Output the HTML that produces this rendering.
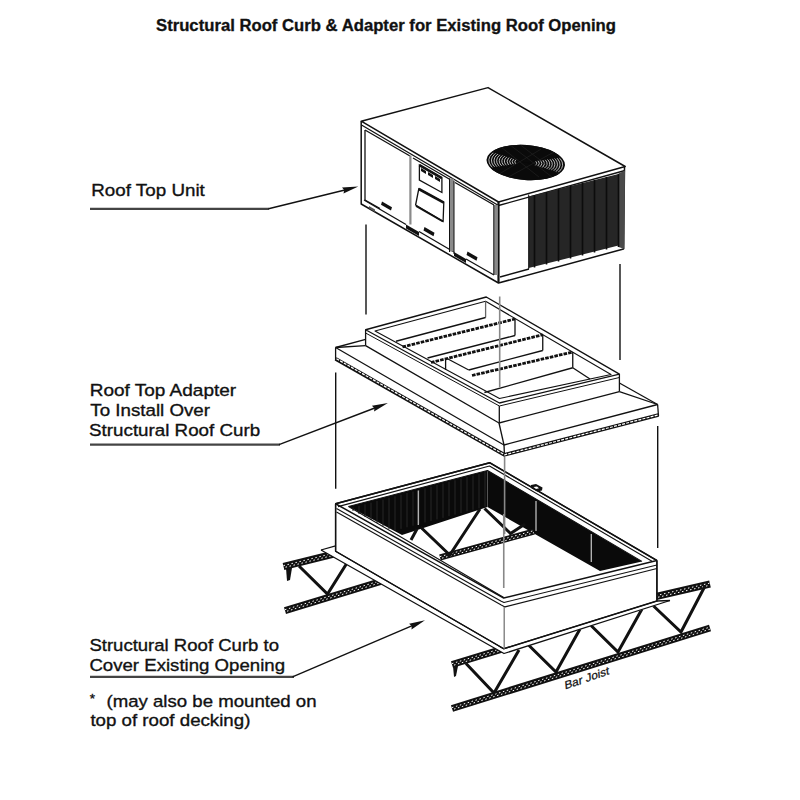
<!DOCTYPE html>
<html><head><meta charset="utf-8">
<style>
html,body{margin:0;padding:0;background:#fff;width:800px;height:800px;overflow:hidden}
svg{display:block}
text{font-family:"Liberation Sans",sans-serif;fill:#111}
</style></head><body>
<svg width="800" height="800" viewBox="0 0 800 800">
<rect width="800" height="800" fill="#fff"/>
<!-- title -->
<text x="156" y="31.2" font-size="15.6" font-weight="bold" stroke="#111" stroke-width="0.3" textLength="460" lengthAdjust="spacingAndGlyphs">Structural Roof Curb &amp; Adapter for Existing Roof Opening</text>
<!-- labels -->
<g font-size="17.2" stroke="#111" stroke-width="0.35">
<text x="91.3" y="196.3" textLength="113.5" lengthAdjust="spacingAndGlyphs">Roof Top Unit</text>
<text x="89.8" y="396" textLength="146.3" lengthAdjust="spacingAndGlyphs">Roof Top Adapter</text>
<text x="90.3" y="416" textLength="119.7" lengthAdjust="spacingAndGlyphs">To Install Over</text>
<text x="89.1" y="436" textLength="171" lengthAdjust="spacingAndGlyphs">Structural Roof Curb</text>
<text x="89.4" y="651" textLength="189.6" lengthAdjust="spacingAndGlyphs">Structural Roof Curb to</text>
<text x="89.4" y="671.2" textLength="195.6" lengthAdjust="spacingAndGlyphs">Cover Existing Opening</text>
<text x="89.8" y="703" font-size="13.5">*</text>
<text x="106.5" y="706.5" textLength="210" lengthAdjust="spacingAndGlyphs">(may also be mounted on</text>
<text x="90.4" y="726.2" textLength="160" lengthAdjust="spacingAndGlyphs">top of roof decking)</text>
</g>
<g stroke="#111" stroke-width="1.4" fill="none">
<!-- leaders -->
<line x1="90" y1="208.8" x2="269" y2="208.8" stroke="#444" stroke-width="2.2"/>
<line x1="90" y1="444.6" x2="280" y2="444.6" stroke="#444" stroke-width="2.2"/>
<line x1="90" y1="676.8" x2="294" y2="676.8" stroke="#444" stroke-width="2.2"/>
<polyline points="268.5,208.8 350,188.8"/>
<polyline points="279,444.6 380,406"/>
<polyline points="292.5,676.8 417,623.6"/>
</g>
<g fill="#111">
<polygon points="358.3,186.6 343.5,193.5 344.2,190.1 342.0,187.5"/>
<polygon points="387.9,403.0 374.1,411.6 374.4,408.2 371.9,405.8"/>
<polygon points="425.0,620.3 411.5,629.4 411.7,626.0 409.1,623.7"/>
</g>

<!-- ===== UNIT ===== -->
<g stroke="#111" stroke-width="1.3" fill="none" stroke-linejoin="round">
<polygon points="361.2,121.2 488,87.6 625.2,166.5 498.5,202" fill="#fff" stroke-width="1.5"/>
<!-- rim double lines -->
<polyline points="361.5,125 498.5,205.5 625,170.5"/>
<polyline points="365,130 410,156"/>
<polyline points="413,158 450,179.5"/>
<polyline points="455,182.5 494,205"/>
<!-- left outer vertical & bottom -->
<polyline points="361.2,121.2 361.2,204 498.5,283 623.5,249 624.5,167" stroke-width="1.5"/>
<line x1="365" y1="130" x2="365" y2="200"/>
<polyline points="365,200 380,208.5"/>
<polyline points="364,200 406,224.5"/>
<polyline points="419,231.5 454,252"/>
<polyline points="466,259 494,275"/>
<line x1="498.5" y1="202" x2="498.5" y2="283" stroke-width="2.2"/>
<!-- right face bottom double -->
<polyline points="500,277 529,269"/>
</g>
<!-- gray divider bands -->
<g fill="#8a8a8a">
<rect x="409.3" y="155.5" width="2.2" height="69"/>
<rect x="449.5" y="178.5" width="4.5" height="73"/>
<rect x="493.8" y="205" width="4" height="70"/>
</g>
<g stroke="#111" stroke-width="1" fill="none">
<line x1="449.5" y1="178.5" x2="449.5" y2="252"/>
<line x1="454" y1="181" x2="454" y2="254"/>
<line x1="493.8" y1="205" x2="493.8" y2="275"/>
</g>
<!-- control panel -->
<g stroke="#111" stroke-width="1.3" fill="none">
<polygon points="419.4,165 441.9,178 441.9,192.5 419.4,180"/>
<polygon points="418.8,188.8 443.8,202.5 443.1,221.3 415.6,205"/>
</g>
<g stroke="#111" stroke-width="2.6" fill="none">
<line x1="419.4" y1="165.2" x2="441.9" y2="178.2"/>
<line x1="418.8" y1="189" x2="443.8" y2="202.7"/>
<line x1="416" y1="206" x2="443" y2="221.5" stroke-width="2"/>
</g>
<g fill="#111">
<polygon points="421,168 426,171 426,174 421,171"/>
<polygon points="428,172 433,175 433,178 428,175"/>
<polygon points="435,176 440,179 440,182 435,179"/>
<!-- handles -->
<polygon points="382,201.5 392,207.2 391,210.5 381,204.8"/>
<polygon points="424.5,227 434.5,232.8 433.5,236.2 423.5,230.4"/>
<polygon points="467.5,251.5 477.5,257.3 476.5,260.7 466.5,254.9"/>
<!-- base blocks -->
<polygon points="406,224.5 419,232 419,236 406,228.5"/>
<polygon points="454,252 466,259 466,263 454,256"/>
<polygon points="369,206 375,209.5 375,212 369,208.5" fill="#555"/>
</g>
<!-- coil -->
<polygon points="528.7,196.5 618.5,174 618.5,245.5 528.7,268" fill="#262626"/>
<polygon points="618.5,173.5 625,170.5 624.5,249 618.5,247" fill="#4a4a4a"/>
<g stroke="#0c0c0c" stroke-width="1.6">
<line x1="534.5" y1="195.0" x2="534.5" y2="267.5"/>
<line x1="546.5" y1="192.0" x2="546.5" y2="264.5"/>
<line x1="558.5" y1="189.0" x2="558.5" y2="261.5"/>
<line x1="570.5" y1="186.0" x2="570.5" y2="258.5"/>
<line x1="582.5" y1="183.0" x2="582.5" y2="255.5"/>
<line x1="594.5" y1="180.0" x2="594.5" y2="252.5"/>
<line x1="606.5" y1="177.0" x2="606.5" y2="249.5"/>
<line x1="618.5" y1="174.0" x2="618.5" y2="247"/>
</g>
<line x1="528.7" y1="194.5" x2="528.7" y2="269" stroke="#111" stroke-width="1"/>
<!-- fan -->
<defs><clipPath id="fanclip"><ellipse cx="525.75" cy="162.5" rx="39.3" ry="17.5"/></clipPath></defs>
<g transform="rotate(4.3 525.75 162.5)">
<ellipse cx="525.75" cy="162.5" rx="39.3" ry="17.5" fill="#0a0a0a"/>
<g clip-path="url(#fanclip)">
<g fill="none" stroke="#fff" stroke-width="0.8" opacity="0.85">
<ellipse cx="525.75" cy="162.5" rx="37.0" ry="16.5"/>
<ellipse cx="525.75" cy="162.5" rx="34.4" ry="15.3"/>
<ellipse cx="525.75" cy="162.5" rx="31.8" ry="14.2"/>
<ellipse cx="525.75" cy="162.5" rx="29.2" ry="13.0"/>
<ellipse cx="525.75" cy="162.5" rx="26.6" ry="11.8"/>
<ellipse cx="525.75" cy="162.5" rx="24.0" ry="10.7"/>
<ellipse cx="525.75" cy="162.5" rx="21.4" ry="9.5"/>
<ellipse cx="525.75" cy="162.5" rx="18.8" ry="8.4"/>
<ellipse cx="525.75" cy="162.5" rx="16.2" ry="7.2"/>
<ellipse cx="525.75" cy="162.5" rx="13.6" ry="6.1"/>
<ellipse cx="525.75" cy="162.5" rx="11.0" ry="4.9"/>
</g>
<polygon points="525.75,162.5 455,147 455,130 597,130 597,147" fill="#0a0a0a"/>
<polygon points="525.75,162.5 455,178 455,195 597,195 597,178" fill="#0a0a0a"/>
<g stroke="#262626" stroke-width="0.6" fill="none">
<line x1="500" y1="149" x2="540" y2="176"/>
<line x1="510" y1="147" x2="553" y2="175"/>
<line x1="520" y1="146" x2="560" y2="172"/>
<line x1="540" y1="148" x2="500" y2="176"/>
<line x1="553" y1="150" x2="510" y2="178"/>
</g>
</g>
</g>
<!-- ===== ADAPTER ===== -->
<g stroke="#111" stroke-width="1.3" fill="none" stroke-linejoin="round">
<!-- flange + skirt + box silhouette (white fill) -->
<polygon points="335.6,347.5 365.6,339.4 365.6,329.75 486.25,297 619.4,374.1 619.4,383 657.6,404.5 658.5,417 504.5,457 335.6,361" fill="#fff" stroke="none"/>
<!-- flange back edges -->
<line x1="335.6" y1="347.5" x2="365.6" y2="339.4"/>
<line x1="619.4" y1="383" x2="657.6" y2="404.5"/>
<!-- flange top front edges -->
<polyline points="335.6,347.5 504,445 657.6,404.5"/>
<!-- flange thickness -->
<line x1="335.6" y1="347.5" x2="335.6" y2="360"/>
<line x1="504" y1="445" x2="504.5" y2="456"/>
<line x1="657.6" y1="404.5" x2="658.5" y2="416"/>
<polyline points="335.6,358.8 504.5,454.8 658.5,415" stroke-width="3.7"/>
<polyline points="336.5,358.8 504.5,454.8 658,415" stroke="#fff" stroke-width="1.2" stroke-dasharray="3 1.2"/>
<!-- skirt corners -->
<line x1="365.6" y1="345.6" x2="335.6" y2="347.5"/>
<line x1="499" y1="423" x2="504" y2="445"/>
<line x1="619.4" y1="391.6" x2="657.6" y2="404.5"/>
<!-- box walls -->
<polyline points="365.6,345.6 499,423 619.4,391.6"/>
<line x1="365.6" y1="329.75" x2="365.6" y2="345.6"/>
<line x1="499.3" y1="406" x2="499.3" y2="423"/>
<line x1="619.4" y1="374.1" x2="619.4" y2="391.6"/>
<!-- rim outer -->
<polygon points="365.6,329.75 486.25,297 619.4,374.1 499.4,403"/>
<polyline points="365.6,333 499.4,406 619.4,377.5" stroke-width="1"/>
<!-- rim inner -->
<polygon points="375,331 485.6,301.25 611,374.5 499.5,398.5" stroke-width="1.1"/>
<line x1="485.6" y1="301.25" x2="485.6" y2="317.5" stroke="#666"/>
<!-- interior rails -->
<line x1="396" y1="341.25" x2="485.6" y2="317.5"/>
<line x1="427.5" y1="358" x2="515" y2="335.5"/>
<line x1="468.75" y1="370" x2="542.75" y2="350.5"/>
<line x1="484.4" y1="392.5" x2="572.75" y2="367.75"/>
<line x1="515" y1="319" x2="515" y2="335.5"/>
<line x1="542.75" y1="334.75" x2="542.75" y2="350.5"/>
<line x1="572.75" y1="352" x2="572.75" y2="367.75"/>
<line x1="572.75" y1="367.75" x2="590" y2="379"/>
<line x1="445.6" y1="358.75" x2="445.6" y2="370"/>
<line x1="447.5" y1="358.75" x2="468.75" y2="370"/>
</g>
<g stroke="#111" stroke-width="2.8" fill="none" stroke-dasharray="3.6 1.1">
<line x1="402.5" y1="346.9" x2="515" y2="319"/>
<line x1="431" y1="362.5" x2="542.75" y2="334.75"/>
<line x1="472" y1="375.5" x2="572.75" y2="352"/>
</g>
<!-- ===== JOISTS (behind curb) ===== -->
<g stroke-linecap="butt" fill="none">
<line x1="283.5" y1="566.5" x2="336" y2="553.5" stroke="#111" stroke-width="7"/>
<line x1="283.5" y1="565.6" x2="336" y2="552.6" stroke="#fff" stroke-width="1" stroke-dasharray="1.5 2.6"/>
<line x1="283.5" y1="567.7" x2="336" y2="554.7" stroke="#fff" stroke-width="1" stroke-dasharray="1.5 2.6" stroke-dashoffset="2"/>
<line x1="285" y1="610.6" x2="384" y2="580.5" stroke="#111" stroke-width="7"/>
<line x1="285" y1="609.7" x2="384" y2="579.6" stroke="#fff" stroke-width="1" stroke-dasharray="1.5 2.6"/>
<line x1="285" y1="611.8000000000001" x2="384" y2="581.7" stroke="#fff" stroke-width="1" stroke-dasharray="1.5 2.6" stroke-dashoffset="2"/>
<polyline points="299,566 327.5,594 347,563" stroke="#111" stroke-width="3"/>
<polygon points="286,568 292,568 290,580 287,581" fill="#111"/>
<line x1="452" y1="664.5" x2="506" y2="648" stroke="#111" stroke-width="7"/>
<line x1="452" y1="663.6" x2="506" y2="647.1" stroke="#fff" stroke-width="1" stroke-dasharray="1.5 2.6"/>
<line x1="452" y1="665.7" x2="506" y2="649.2" stroke="#fff" stroke-width="1" stroke-dasharray="1.5 2.6" stroke-dashoffset="2"/>
<line x1="656" y1="596.5" x2="710" y2="584" stroke="#111" stroke-width="7"/>
<line x1="656" y1="595.6" x2="710" y2="583.1" stroke="#fff" stroke-width="1" stroke-dasharray="1.5 2.6"/>
<line x1="656" y1="597.7" x2="710" y2="585.2" stroke="#fff" stroke-width="1" stroke-dasharray="1.5 2.6" stroke-dashoffset="2"/>
<line x1="452" y1="708.5" x2="710" y2="628" stroke="#111" stroke-width="7"/>
<line x1="452" y1="707.6" x2="710" y2="627.1" stroke="#fff" stroke-width="1" stroke-dasharray="1.5 2.6"/>
<line x1="452" y1="709.7" x2="710" y2="629.2" stroke="#fff" stroke-width="1" stroke-dasharray="1.5 2.6" stroke-dashoffset="2"/>
<polyline points="466,663.5 494,693 519,650" stroke="#111" stroke-width="3"/>
<polyline points="529,645.5 556,672 580,629" stroke="#111" stroke-width="3"/>
<polyline points="591,625.5 618,652 642,609" stroke="#111" stroke-width="3"/>
<polyline points="653,605.5 681,632 705,586" stroke="#111" stroke-width="3"/>
<polygon points="453,666 458,666 456,676 454,677" fill="#111"/>
</g>

<!-- ===== CURB ===== -->
<g stroke="#111" stroke-width="1.3" fill="none" stroke-linejoin="round">
<!-- base flange -->
<polygon points="321,550 335.6,545.5 335.6,551.25 502.5,648.75 657,601 670,601 504,653.5" fill="#fff" stroke="none"/>
<polyline points="321,550 335.6,545.8"/>
<polyline points="321,550 504,653.5 670,600.5"/>
<polyline points="657,601 670,600.5"/>
<!-- outer silhouette fill -->
<polygon points="335.6,503.75 489.75,462.75 656.9,560.5 656.9,601 503.75,648.75 335.6,551.25" fill="#fff"/>
</g>
<!-- dark interior walls -->
<polygon points="348.5,506.5 487.5,470.5 642,561.4 600,571 487.5,507 402,535" fill="#0a0a0a"/>
<g stroke="#262626" stroke-width="1">
<line x1="353" y1="507.4" x2="353" y2="511.0"/>
<line x1="359" y1="505.8" x2="359" y2="514.0"/>
<line x1="365" y1="504.2" x2="365" y2="517.0"/>
<line x1="371" y1="502.6" x2="371" y2="520.0"/>
<line x1="377" y1="501.0" x2="377" y2="523.0"/>
<line x1="383" y1="499.4" x2="383" y2="526.0"/>
<line x1="389" y1="497.8" x2="389" y2="529.0"/>
<line x1="395" y1="496.2" x2="395" y2="530.5"/>
<line x1="401" y1="494.6" x2="401" y2="528.9"/>
<line x1="407" y1="493.0" x2="407" y2="527.3"/>
<line x1="413" y1="491.4" x2="413" y2="525.7"/>
<line x1="419" y1="489.8" x2="419" y2="524.1"/>
<line x1="425" y1="488.2" x2="425" y2="522.5"/>
<line x1="431" y1="486.6" x2="431" y2="521.0"/>
<line x1="437" y1="485.0" x2="437" y2="519.4"/>
<line x1="443" y1="483.4" x2="443" y2="517.8"/>
<line x1="449" y1="481.8" x2="449" y2="516.2"/>
<line x1="455" y1="480.2" x2="455" y2="514.6"/>
<line x1="461" y1="478.6" x2="461" y2="513.0"/>
<line x1="467" y1="477.0" x2="467" y2="511.4"/>
<line x1="473" y1="475.4" x2="473" y2="509.8"/>
<line x1="479" y1="473.8" x2="479" y2="508.3"/>
<line x1="485" y1="472.2" x2="485" y2="506.7"/>
</g>
<g stroke="#bbb" stroke-width="1.3">
<line x1="418.3" y1="490.5" x2="418.3" y2="525"/>
<line x1="536" y1="501" x2="536" y2="531"/>
<line x1="591.3" y1="534" x2="591.3" y2="562"/>
</g>
<g stroke="#111" fill="none" stroke-linejoin="round">
<line x1="487.5" y1="470.5" x2="487.5" y2="507" stroke="#555" stroke-width="1"/>
<!-- rim -->
<polyline points="335.6,503.75 489.75,462.75 656.9,560.5" stroke-width="1.5"/>
<polyline points="338,506.6 489.5,466 652,561.2" stroke-width="1.1"/>
<polyline points="348.5,506.5 487.5,470.5 642,561.4" stroke-width="1.1"/>
<!-- near walls -->
<polyline points="335.6,503.75 335.6,551.25 503.75,648.75 656.9,601 656.9,560.5" stroke-width="1.4"/>
<polyline points="335.6,503.75 503.75,598.1 656.9,560.5" stroke-width="1.5"/>
<polyline points="336.5,508.5 501.25,601.25 504,602.5 656.9,565" stroke-width="1.1"/>
<polyline points="336.5,512 501.25,605 505,606.9 656.9,568.5" stroke-width="1.1"/>
<line x1="504.2" y1="607" x2="504.2" y2="648.75" stroke="#777" stroke-width="1.3"/>
</g>
<polygon points="531,485 536,484 542.5,487.5 542,490.5 537,491.5 531,488" fill="#111"/>
<polygon points="533.5,487 537,486.5 539,488.2 536,489" fill="#fff"/>
<!-- joist seen through opening -->
<g fill="none">
<line x1="440" y1="557.5" x2="534" y2="531.5" stroke="#111" stroke-width="6"/>
<line x1="440" y1="556.6" x2="534" y2="530.6" stroke="#fff" stroke-width="1" stroke-dasharray="1.5 2.6"/>
<line x1="440" y1="558.7" x2="534" y2="532.7" stroke="#fff" stroke-width="1" stroke-dasharray="1.5 2.6" stroke-dashoffset="2"/>
<polyline points="420.5,527 449.75,555 480,509" stroke="#111" stroke-width="3"/>
<polyline points="484.5,508.5 510.5,533.5 525,524" stroke="#111" stroke-width="3"/>
<line x1="411" y1="540" x2="417" y2="529" stroke="#111" stroke-width="3"/>
</g>
<!-- repaint near long wall rim lines over joist -->
<g stroke="#111" fill="none">
<polyline points="348.5,506.5 400,536.5 434,556.5 503.75,597.5" stroke-width="1.1"/>
</g>
<text x="0" y="0" font-size="11" textLength="47" lengthAdjust="spacingAndGlyphs" stroke="#111" stroke-width="0.25" transform="translate(565,689.5) rotate(-19) skewX(-14)">Bar Joist</text>

<!-- vertical alignment lines -->
<g stroke="#111" stroke-width="1.4">
<line x1="366" y1="224.5" x2="366" y2="314.5"/>
<line x1="620" y1="264" x2="620" y2="360"/>
<line x1="335.7" y1="372.5" x2="335.7" y2="488.7"/>
<line x1="657.7" y1="426" x2="657.7" y2="548"/>
</g>
<g stroke="#888" stroke-width="1.6">
<line x1="499.7" y1="296.5" x2="499.7" y2="387.5"/>
<line x1="504.6" y1="457" x2="504.6" y2="534"/>
<line x1="503.75" y1="514" x2="503.75" y2="588"/>
</g>
</svg>
</body></html>
